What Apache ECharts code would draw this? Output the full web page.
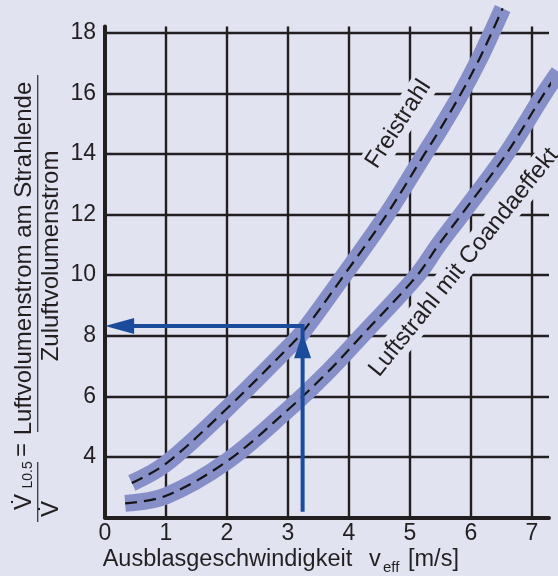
<!DOCTYPE html>
<html><head><meta charset="utf-8">
<script src="https://cdn.jsdelivr.net/npm/echarts@6/dist/echarts.min.js"></script>
<style>html,body{margin:0;padding:0;background:#e1e3f1}#c{width:558px;height:576px}</style>
</head><body><div id="c"></div>
<script>
// ---- data ----
const xTicks = [0, 1, 2, 3, 4, 5, 6, 7];
const yTicks = [4, 6, 8, 10, 12, 14, 16, 18];
const freiX = [0.44, 1.0, 2.0, 3.0, 3.24, 3.92, 4.62, 5.24, 5.49, 5.84, 6.13, 6.34, 6.52];
const freiY = [3.14, 3.78, 5.6, 7.6, 8.12, 10.0, 12.0, 14.0, 14.8, 16.0, 17.1, 18.0, 18.8];
const coandaX = [0.33, 1.0, 2.0, 3.0, 3.63, 4.24, 5.11, 5.47, 5.86, 6.57, 7.21, 7.44];
const coandaY = [2.47, 2.72, 3.86, 5.56, 6.76, 8.07, 9.97, 11.0, 12.04, 13.97, 16.02, 16.7];
const readX = [3.24, 3.24, 0.3];
const readY = [2.19, 8.32, 8.32];
const arrowUp = [3.24, 7.67];
const arrowLeft = [0.24, 8.32];
const curveLabels = ['Freistrahl', 'Luftstrahl mit Coandaeffekt'];
const curveLabelPos = [[4.81, 14.98], [5.885, 10.42]];
const curveLabelRot = [57, 51];

// ---- style ----
const BG = '#e1e3f1', INK = '#231f20', BAND = '#878fc8', BLUE = '#1b4c9c';
const FONT = '"Liberation Sans", Arial, Helvetica, sans-serif';
const zip = (xs, ys) => xs.map((x, i) => [x, ys[i]]);

const chart = echarts.init(document.getElementById('c'), null, {renderer: 'canvas'});

function band(xs, ys) {
  return [{
    type: 'line', data: zip(xs, ys), smooth: 0.35, symbol: 'none', clip: false,
    lineStyle: {color: BAND, width: 17, cap: 'butt'}, z: 3, silent: true
  }, {
    type: 'line', data: zip(xs, ys), smooth: 0.35, symbol: 'none', clip: false,
    lineStyle: {color: '#151515', width: 2.2, type: [12, 7], cap: 'butt'}, z: 4, silent: true
  }];
}

function txt(text, x, y, size, align, extra, styleExtra) {
  return Object.assign({
    type: 'text', x: x, y: y,
    style: Object.assign({text: text, fill: INK, font: size + 'px ' + FONT,
            align: align, textAlign: align, verticalAlign: 'middle', textVerticalAlign: 'middle'}, styleExtra || {})
  }, extra || {});
}

const option = {
  backgroundColor: BG,
  animation: false,
  grid: {left: 105, right: 9, top: 26.6, bottom: 58.4, containLabel: false, outerBoundsMode: 'none'},
  xAxis: {
    type: 'value', min: 0, max: 7.28, interval: 1,
    axisLine: {show: true, onZero: false, lineStyle: {color: INK, width: 4}},
    axisTick: {show: false},
    axisLabel: {color: INK, fontSize: 23, fontFamily: FONT, margin: 5, showMaxLabel: false,
      formatter: v => xTicks.includes(v) ? String(v) : ''},
    splitLine: {show: true, showMinLine: false, showMaxLine: false, lineStyle: {color: INK, width: 2.4}}
  },
  yAxis: {
    type: 'value', min: 2, max: 18.2, interval: 2,
    axisLine: {show: true, onZero: false, lineStyle: {color: INK, width: 4}},
    axisTick: {show: false},
    axisLabel: {color: INK, fontSize: 23, fontFamily: FONT, margin: 9, showMinLabel: false, showMaxLabel: false,
      formatter: v => yTicks.includes(v) ? String(v) : ''},
    splitLine: {show: true, showMinLine: false, showMaxLine: false, lineStyle: {color: INK, width: 2.4}}
  },
  series: [
    ...band(freiX, freiY),
    ...band(coandaX, coandaY),
    {
      type: 'line', data: zip(readX, readY), symbol: 'none', clip: false, z: 5, silent: true,
      lineStyle: {color: BLUE, width: 4, join: 'miter', cap: 'butt'}
    },
    {
      type: 'scatter', z: 6, silent: true, symbol: 'triangle',
      itemStyle: {color: BLUE, opacity: 1},
      data: [
        {value: arrowUp, symbolSize: [17, 25], symbolRotate: 0},
        {value: arrowLeft, symbolSize: [16, 29], symbolRotate: 90}
      ]
    }
  ]
};
chart.setOption(option);

const graphics = [
  {
    type: 'group', x: 37.7, y: 526, rotation: Math.PI / 2, silent: true,
    children: [
      {type: 'rect', shape: {x: 94, y: -0.65, width: 357, height: 1.3}, style: {fill: '#3a3a3a'}},
      txt('Luftvolumenstrom am Strahlende', 267.5, -13.1, 24, 'center'),
      txt('Zuluftvolumenstrom', 270, 13.9, 24, 'center'),
      txt('=', 76, -15, 24, 'center'),
      {type: 'rect', shape: {x: 4, y: -0.65, width: 60, height: 1.3}, style: {fill: '#3a3a3a'}},
      txt('V\u0307', 16, -13.1, 24, 'left'),
      txt('L0.5', 37.5, -9.6, 14, 'left'),
      txt('V\u0307', 9, 13.9, 24, 'left')
    ]
  },
  txt('Ausblasgeschwindigkeit', 102.7, 559.5, 23.5, 'left'),
  txt('v', 369, 559.5, 23.5, 'left'),
  txt('eff', 383, 567.8, 15, 'left'),
  txt('[m/s]', 408, 559.5, 23.5, 'left')
];
curveLabelPos.forEach((p, i) => {
  const px = chart.convertToPixel({gridIndex: 0}, p);
  graphics.push(txt(curveLabels[i], px[0], px[1], 24, 'center',
    {rotation: curveLabelRot[i] * Math.PI / 180, z: 2.5, silent: true},
    {backgroundColor: BG, padding: [2, 6]}));
});
chart.setOption({graphic: graphics});
</script>
</body></html>
